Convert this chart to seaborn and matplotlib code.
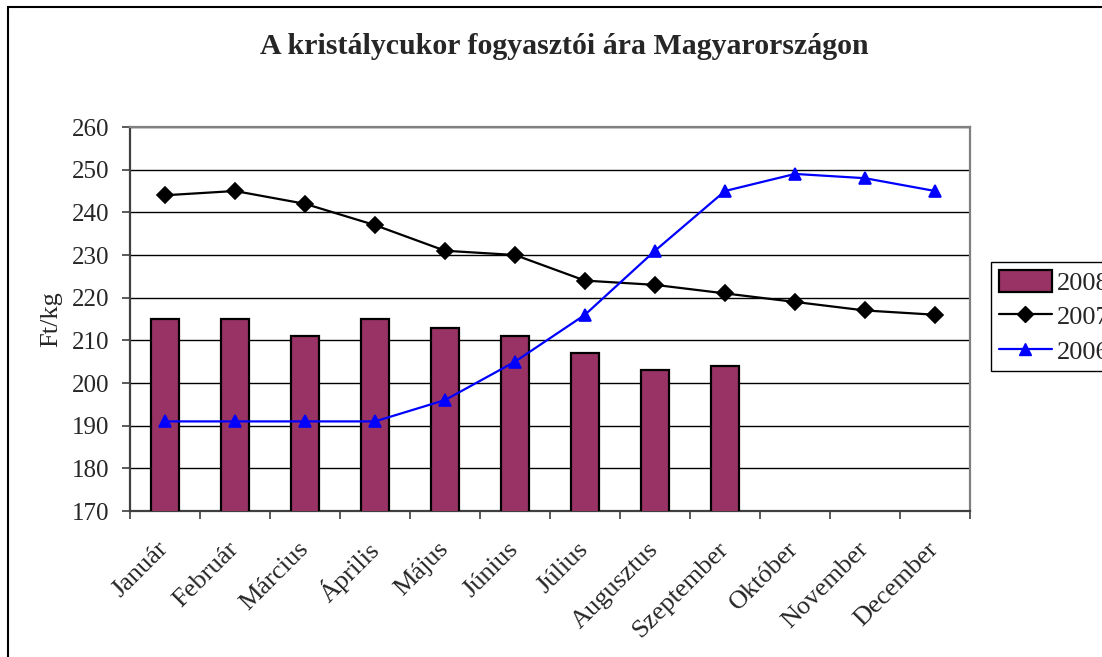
import matplotlib
matplotlib.use("Agg")
import matplotlib.pyplot as plt
import matplotlib.transforms as mtransforms
import seaborn as sns
import pandas as pd
import numpy as np
from matplotlib.patches import Patch, Rectangle
from matplotlib.lines import Line2D

months = ["Január", "Február", "Március", "Április", "Május", "Június",
          "Július", "Augusztus", "Szeptember", "Október", "November", "December"]
v2008 = [215, 215, 211, 215, 213, 211, 207, 203, 204]
v2007 = [244, 245, 242, 237, 231, 230, 224, 223, 221, 219, 217, 216]
v2006 = [191, 191, 191, 191, 196, 205, 216, 231, 245, 249, 248, 245]
yticks = list(range(170, 261, 10))

title = "A kristálycukor fogyasztói ára Magyarországon"
ylabel = "Ft/kg"

sns.set_theme(style="white")
plt.rcParams["font.family"] = ["Liberation Serif", "DejaVu Serif"]

W, H = 1102, 657
fig = plt.figure(figsize=(W / 100, H / 100), dpi=100)
ax = fig.add_axes([130 / W, 1 - 511 / H, 840 / W, 384 / H])

df08 = pd.DataFrame({"month": months[:len(v2008)], "price": v2008})
df07 = pd.DataFrame({"month": months, "price": v2007})
df06 = pd.DataFrame({"month": months, "price": v2006})

sns.barplot(data=df08, x="month", y="price", order=months, color="#993366",
            saturation=1, width=0.4, edgecolor="black", linewidth=1.6, ax=ax,
            zorder=3)
sns.pointplot(data=df07, x="month", y="price", order=months, color="black",
              markers="D", markersize=8, linewidth=1.6, ax=ax, zorder=4)
sns.pointplot(data=df06, x="month", y="price", order=months, color="#0000FF",
              markers="^", markersize=9, linewidth=1.6, ax=ax, zorder=5)

ax.set_ylim(170, 260)
ax.set_xlim(-0.5, len(months) - 0.5)

ax.set_yticks(yticks)
ax.set_yticklabels([str(t) for t in yticks], fontsize=18)
ax.set_xticks(np.arange(-0.5, len(months), 1.0))
ax.set_xticklabels([""] * len(ax.get_xticks()))
ax.set_xticks(np.arange(len(months)), minor=True)
ax.set_xticklabels(months, minor=True, rotation=45, ha="right", va="center",
                   rotation_mode="anchor", fontsize=19)
shift = mtransforms.ScaledTranslation(-8 / 100, 0, fig.dpi_scale_trans)
for lab in ax.get_xticklabels(minor=True):
    lab.set_transform(lab.get_transform() + shift)
ax.tick_params(axis="x", which="minor", length=0, pad=25)
ax.tick_params(axis="x", which="major", length=6, width=1.2, color="#404040",
               direction="out", bottom=True)
ax.tick_params(axis="y", length=6, width=1.2, color="#404040",
               direction="out", left=True, pad=9)
ax.set_xlabel("")
ax.set_ylabel(ylabel, fontsize=19, labelpad=7)

ax.yaxis.grid(True, color="black", linewidth=1.0, zorder=0)
ax.set_axisbelow(True)
for s in ["top", "right"]:
    ax.spines[s].set_color("#808080")
    ax.spines[s].set_linewidth(1.6)
for s in ["left", "bottom"]:
    ax.spines[s].set_color("#404040")
    ax.spines[s].set_linewidth(1.6)

fig.text(564 / W, 1 - 47 / H, title, ha="center", va="center",
         fontsize=21.5, fontweight="bold")

handles = [
    Patch(facecolor="#993366", edgecolor="black", linewidth=1.6),
    Line2D([0], [0], color="black", marker="D", markersize=8, linewidth=1.6),
    Line2D([0], [0], color="#0000FF", marker="^", markersize=9, linewidth=1.6),
]
leg = fig.legend(handles, ["2008", "2007", "2006"], loc="upper left",
                 bbox_to_anchor=(991 / W, 1 - 262 / H), borderaxespad=0,
                 prop={"size": 19}, frameon=True, fancybox=False,
                 edgecolor="black", framealpha=1, borderpad=0.3,
                 labelspacing=0.35, handlelength=2.0, handleheight=0.9,
                 handletextpad=0.2)
leg.get_frame().set_linewidth(1.0)

# outer chart border
fig.patches.append(Rectangle((7.5 / W, -0.1), 1.2, (1 - 6.5 / H) + 0.1,
                             transform=fig.transFigure, fill=False,
                             edgecolor="black", linewidth=1.5))

fig.savefig("out.png", dpi=100)
